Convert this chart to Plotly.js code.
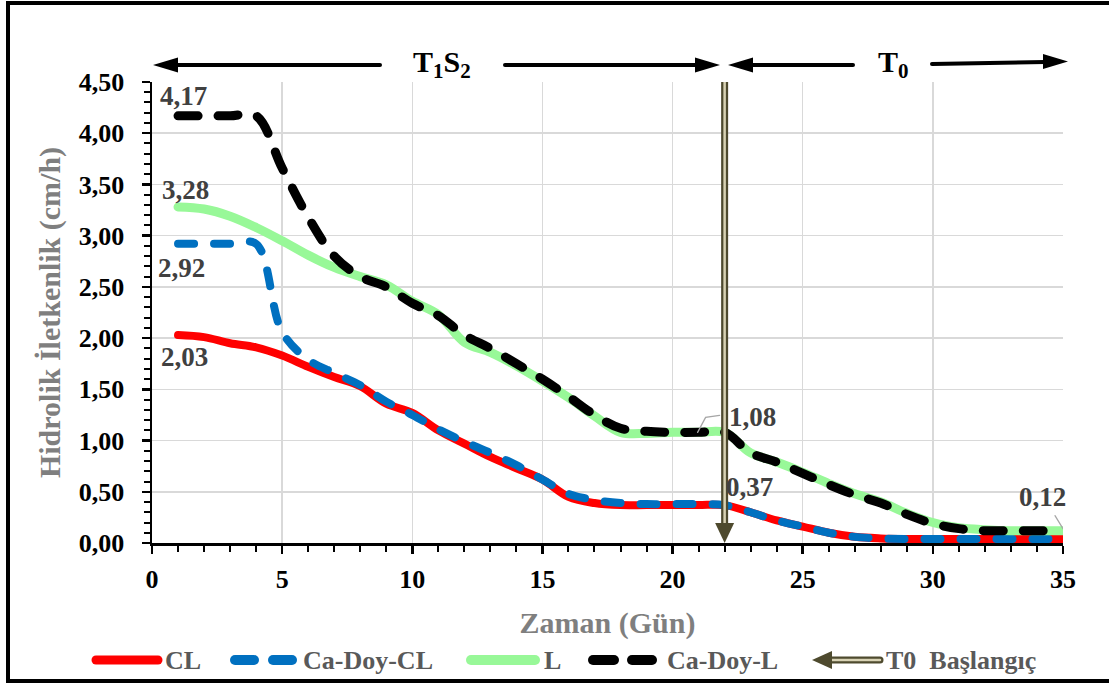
<!DOCTYPE html>
<html><head><meta charset="utf-8">
<script src="https://cdn.plot.ly/plotly-3.0.1.min.js"></script>
<style>
html,body{margin:0;padding:0;background:#fff;}
#chart{width:1109px;height:683px;}
</style></head><body><div id="chart"></div>
<script>
// ---------- data ----------
const DAYS = [1,2,3,4,5,6,7,8,9,10,11,12,13,14,15,16,17,18,19,20,21,22,23,24,25,26,27,28,29,30,31,32,33,34,35];
const CL        = [2.03,2.01,1.95,1.91,1.83,1.72,1.62,1.53,1.36,1.27,1.10,0.97,0.84,0.73,0.62,0.45,0.39,0.37,0.37,0.37,0.37,0.37,0.30,0.22,0.16,0.10,0.06,0.045,0.04,0.04,0.04,0.04,0.04,0.04,0.04];
const CA_DOY_CL = [2.92,2.92,2.92,2.92,2.06,1.79,1.66,1.54,1.38,1.25,1.11,0.99,0.88,0.76,0.62,0.48,0.42,0.39,0.38,0.38,0.38,0.37,0.30,0.22,0.16,0.10,0.06,0.045,0.04,0.04,0.04,0.04,0.04,0.04,0.04];
const L         = [3.28,3.26,3.19,3.08,2.95,2.81,2.69,2.60,2.52,2.36,2.23,1.96,1.86,1.73,1.58,1.42,1.24,1.08,1.07,1.08,1.08,1.08,0.88,0.79,0.69,0.58,0.48,0.40,0.29,0.20,0.15,0.13,0.12,0.12,0.12];
const CA_DOY_L  = [4.17,4.17,4.17,4.17,3.66,3.18,2.80,2.60,2.50,2.34,2.22,2.03,1.90,1.75,1.60,1.43,1.25,1.12,1.09,1.08,1.08,1.08,0.88,0.79,0.68,0.57,0.47,0.39,0.28,0.19,0.14,0.12,0.12,0.12,0.12];
const SERIES_NAMES = ['CL','Ca-Doy-CL','L','Ca-Doy-L'];
const X_TICKS = [0,5,10,15,20,25,30,35];
const Y_TICKS = [0,0.5,1,1.5,2,2.5,3,3.5,4,4.5];
const T0_START_DAY = 22;
const PERIOD_LABELS = ['T<sub>1</sub>S<sub>2</sub>','T<sub>0</sub>'];
const ARROW_LEGEND = 'T0\u00a0 Başlangıç';
const X_TITLE = 'Zaman (Gün)';
const Y_TITLE = 'Hidrolik İletkenlik (cm/h)';

// ---------- geometry helpers ----------
const W = 1109, H = 683, ML = 152, MR = 46, MT = 82, MB = 140;
const PW = W - ML - MR, PH = H - MT - MB;
const XMAX = 35, YMAX = 4.5;
const px = v => ML + v * PW / XMAX;          // data x -> pixel
const py = v => (H - MB) - v * PH / YMAX;    // data y -> pixel
const dx = p => (p - ML) * XMAX / PW;        // pixel -> data x
const dy = p => ((H - MB) - p) * YMAX / PH;  // pixel -> data y
const qx = p => (p - ML) / PW;               // pixel -> paper x
const qy = p => ((H - MB) - p) / PH;         // pixel -> paper y
const P = (a,b) => qx(a) + ',' + qy(b);

const FONT = 'Liberation Serif, Times New Roman, serif';
const fmt = v => v.toFixed(2).replace('.', ',');

// ---------- traces ----------
const traces = [
  {x: DAYS, y: CL, name: SERIES_NAMES[0], mode: 'lines', line: {color: '#FF0000', width: 8, shape: 'spline', smoothing: 1}},
  {x: DAYS, y: CA_DOY_CL, name: SERIES_NAMES[1], mode: 'lines', line: {color: '#0070C0', width: 8, shape: 'spline', smoothing: 1, dash: '16px,20px'}},
  {x: DAYS, y: L, name: SERIES_NAMES[2], mode: 'lines', line: {color: '#98F898', width: 9, shape: 'spline', smoothing: 1}},
  {x: DAYS, y: CA_DOY_L, name: SERIES_NAMES[3], mode: 'lines', line: {color: '#000000', width: 9, shape: 'spline', smoothing: 1, dash: '20px,20px'}}
];

// ---------- shapes ----------
const shapes = [];
// outer frame
shapes.push({type: 'rect', xref: 'paper', yref: 'paper', x0: qx(8), x1: qx(1118), y0: qy(681), y1: qy(3), line: {color: '#000', width: 4}});
// period arrows on top
const hline = (a, ya, b, yb) => ({type: 'line', xref: 'paper', yref: 'paper', x0: qx(a), y0: qy(ya), x1: qx(b), y1: qy(yb), line: {color: '#000', width: 4}});
const head = (tipX, tipY, dir, len, half, color) => ({type: 'path', xref: 'paper', yref: 'paper',
  path: 'M' + P(tipX, tipY) + ' L' + P(tipX + dir*len, tipY - half) + ' L' + P(tipX + dir*len, tipY + half) + ' Z',
  fillcolor: color, line: {width: 0}});
shapes.push(hline(175, 65, 380, 65));
shapes.push(head(153, 65, 1, 25, 7.5, '#000'));
shapes.push(hline(505, 65, 698, 65));
shapes.push(head(720, 65, -1, 25, 7.5, '#000'));
shapes.push(hline(750, 65, 853, 65));
shapes.push(head(728, 65, 1, 25, 7.5, '#000'));
shapes.push(hline(932, 64, 1045, 62));
shapes.push(head(1068, 61.5, -1, 25, 7.5, '#000'));

// T0 start vertical double arrow
const tipTop = dy(py(0) - 20);
shapes.push({type: 'line', x0: T0_START_DAY, x1: T0_START_DAY, y0: YMAX, y1: tipTop, line: {color: '#4E4A2E', width: 7}});
shapes.push({type: 'line', x0: T0_START_DAY, x1: T0_START_DAY, y0: YMAX, y1: tipTop, line: {color: '#D8D2B4', width: 2.5}});
const halfW = dx(ML + 9.5);
shapes.push({type: 'path', path: 'M' + T0_START_DAY + ',0 L' + (T0_START_DAY - halfW) + ',' + tipTop + ' L' + (T0_START_DAY + halfW) + ',' + tipTop + ' Z',
  fillcolor: '#4E4A2E', line: {width: 0}});

// leader lines for data labels
const leader = (x, y, pts) => {
  const X0 = px(x), Y0 = py(y);
  return {type: 'path', path: pts.map((p, i) => (i ? 'L' : 'M') + dx(X0 + p[0]) + ',' + dy(Y0 + p[1])).join(' '),
    line: {color: '#A6A6A6', width: 1.3}};
};
shapes.push(leader(DAYS[20], CA_DOY_L[20], [[-1, 0], [7, -15], [21, -17]]));
shapes.push(leader(DAYS[34], CA_DOY_L[34], [[-8, -15], [0, -2]]));

// ---------- manual legend ----------
const LY = 660;
const seg = (a, b, color, w) => ({type: 'line', xref: 'paper', yref: 'paper', x0: qx(a), x1: qx(b), y0: qy(LY), y1: qy(LY), line: {color: color, width: w}});
shapes.push(seg(96, 158, '#FF0000', 9));
shapes.push(seg(235, 254, '#0070C0', 10));
shapes.push(seg(273, 292, '#0070C0', 10));
shapes.push(seg(471, 535, '#98F898', 10));
shapes.push(seg(593, 614, '#000000', 10));
shapes.push(seg(632, 652, '#000000', 10));
shapes.push(seg(830, 880, '#4E4A2E', 7));
shapes.push(seg(830, 880, '#D8D2B4', 2.5));
shapes.push(head(812, LY, 1, 20, 9, '#4E4A2E'));

// ---------- annotations ----------
const lblFont = {family: FONT, size: 27, color: '#404040', weight: 'bold'};
const dataLabel = (x, y, xs, ys) => ({x: x, y: y, text: fmt(y), showarrow: false, xanchor: 'center', yanchor: 'middle', xshift: xs, yshift: ys, font: lblFont});
const annotations = [
  dataLabel(DAYS[0], CA_DOY_L[0], 5, 20),
  dataLabel(DAYS[0], L[0], 7, 17),
  dataLabel(DAYS[0], CA_DOY_CL[0], 3, -24),
  dataLabel(DAYS[0], CL[0], 6, -22),
  dataLabel(DAYS[21], CA_DOY_L[21], 28, 15),
  dataLabel(DAYS[21], CA_DOY_CL[21], 25, 18),
  dataLabel(DAYS[34], CA_DOY_L[34], -21, 34)
];
const perFont = {family: FONT, size: 30, color: '#000', weight: 'bold'};
annotations.push({xref: 'paper', yref: 'paper', x: qx(442), y: qy(64), text: PERIOD_LABELS[0], showarrow: false, xanchor: 'center', yanchor: 'middle', font: perFont});
annotations.push({xref: 'paper', yref: 'paper', x: qx(893), y: qy(64), text: PERIOD_LABELS[1], showarrow: false, xanchor: 'center', yanchor: 'middle', font: perFont});
const legFont = {family: FONT, size: 26, color: '#595959', weight: 'bold'};
const legText = (xp, t) => ({xref: 'paper', yref: 'paper', x: qx(xp), y: qy(LY), text: t, showarrow: false, xanchor: 'left', yanchor: 'middle', font: legFont});
annotations.push(legText(163, SERIES_NAMES[0]));
annotations.push(legText(301, SERIES_NAMES[1]));
annotations.push(legText(542, SERIES_NAMES[2]));
annotations.push(legText(665, SERIES_NAMES[3]));
annotations.push(legText(884, ARROW_LEGEND));

// ---------- layout ----------
const tickFont = {family: FONT, size: 26, color: '#000', weight: 'bold'};
const titleFont = {family: FONT, size: 30, color: '#7F7F7F', weight: 'bold'};
const layout = {
  width: W, height: H,
  margin: {l: ML, r: MR, t: MT, b: MB, pad: 0},
  paper_bgcolor: '#fff', plot_bgcolor: '#fff',
  separators: ',.',
  showlegend: false,
  xaxis: {
    range: [0, XMAX], tickmode: 'array', tickvals: X_TICKS, ticktext: X_TICKS.map(String),
    showgrid: true, gridcolor: '#D9D9D9', gridwidth: 1.5, zeroline: false,
    showline: true, linecolor: '#000', linewidth: 2.5,
    ticks: 'outside', ticklen: 8, tickwidth: 2.5, tickcolor: '#000',
    minor: {dtick: 1, ticks: 'outside', ticklen: 6, tickwidth: 2, tickcolor: '#000', showgrid: false},
    tickfont: tickFont, ticklabelstandoff: 3,
    title: {text: X_TITLE, font: titleFont, standoff: 20},
    automargin: false, fixedrange: true
  },
  yaxis: {
    range: [0, YMAX], tickmode: 'array', tickvals: Y_TICKS, ticktext: Y_TICKS.map(fmt),
    showgrid: true, gridcolor: '#D9D9D9', gridwidth: 1.5, zeroline: false,
    showline: true, linecolor: '#000', linewidth: 2.5,
    ticks: 'outside', ticklen: 8, tickwidth: 2.5, tickcolor: '#000',
    minor: {dtick: 0.1, ticks: 'outside', ticklen: 6, tickwidth: 2, tickcolor: '#000', showgrid: false},
    tickfont: tickFont, ticklabelstandoff: 12,
    title: {text: Y_TITLE, font: titleFont, standoff: 10},
    automargin: false, fixedrange: true
  },
  shapes: shapes,
  annotations: annotations
};

const roundCaps = gd => {
  gd.querySelectorAll('path.js-line, .shapelayer path').forEach(p => {
    p.style.strokeLinecap = 'round';
    p.setAttribute('stroke-linecap', 'round');
  });
};
Plotly.newPlot('chart', traces, layout, {displayModeBar: false, staticPlot: true}).then(gd => {
  roundCaps(gd);
  gd.on && gd.on('plotly_afterplot', () => roundCaps(gd));
});
</script>
</body></html>
